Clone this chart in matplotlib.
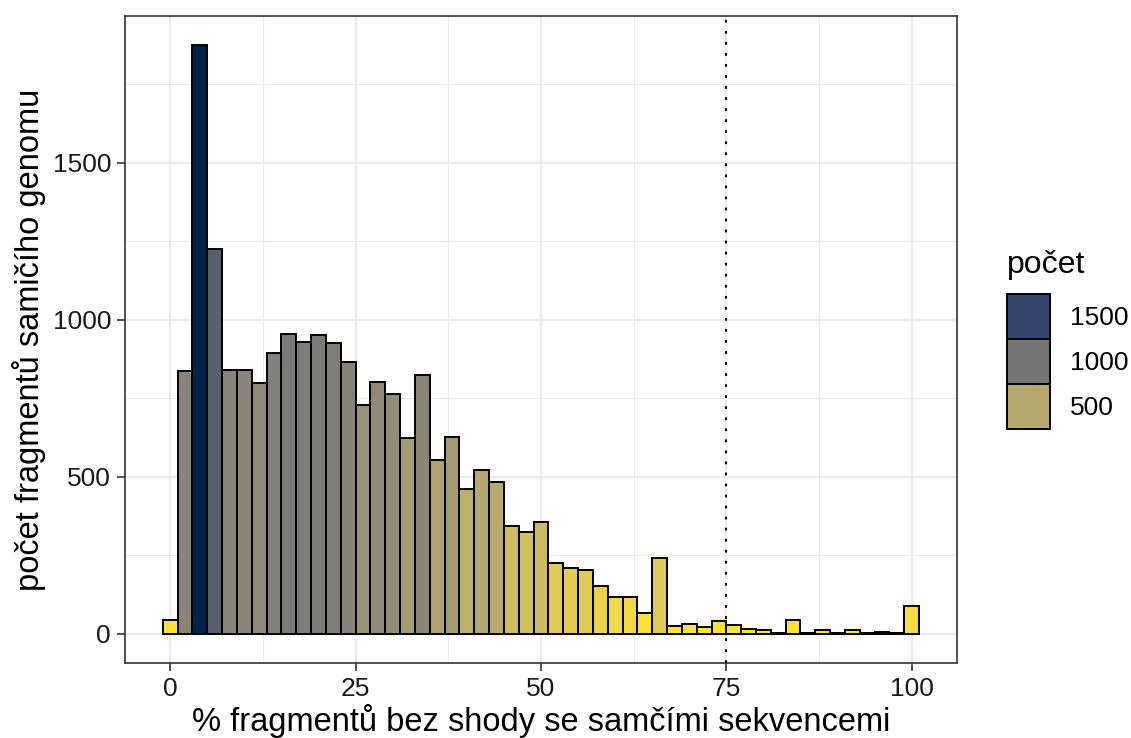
import matplotlib
matplotlib.use("Agg")
import matplotlib.pyplot as plt
from matplotlib.patches import Patch
from matplotlib.colors import Normalize

plt.rcParams['font.family'] = ['Liberation Sans', 'DejaVu Sans']

# stredy binu (sirka 2) a pocty
stredy = list(range(0, 101, 2))
pocty = [42, 835, 1873, 1225, 840, 838, 799, 893, 953, 928,
         952, 926, 864, 727, 800, 762, 623, 824, 554, 627,
         462, 520, 484, 342, 325, 354, 224, 209, 201, 153,
         116, 116, 66, 240, 25, 30, 21, 39, 26, 15,
         10, 2, 44, 3, 12, 2, 11, 3, 5, 1,
         87]
legenda_hodnoty = [1500, 1000, 500]
x_ticks = [0, 25, 50, 75, 100]
y_ticks = [0, 500, 1000, 1500]
hranice = 75

cmap = plt.get_cmap('cividis_r')
norm = Normalize(vmin=min(pocty), vmax=max(pocty))

fig = plt.figure(figsize=(11.31, 7.38), dpi=100)
ax = fig.add_axes([0.1105, 0.1016, 0.7356, 0.8767])

# mrizka jako v theme_bw
for v in [12.5, 37.5, 62.5, 87.5]:
    ax.axvline(v, color='#EBEBEB', lw=0.8, zorder=0)
for v in [250, 750, 1250, 1750]:
    ax.axhline(v, color='#EBEBEB', lw=0.8, zorder=0)
for v in x_ticks:
    ax.axvline(v, color='#EBEBEB', lw=1.6, zorder=0)
for v in y_ticks:
    ax.axhline(v, color='#EBEBEB', lw=1.6, zorder=0)

ax.bar(stredy, pocty, width=2, color=[cmap(norm(p)) for p in pocty],
       edgecolor='black', linewidth=1.4, zorder=2)
ax.axvline(hranice, color='black', ls=(0, (1.3, 4)), lw=1.5, zorder=3)

# rozsah s 5% rezervou
xmin, xmax = stredy[0] - 1, stredy[-1] + 1
ex = (xmax - xmin) * 0.05
ax.set_xlim(xmin - ex, xmax + ex)
ey = max(pocty) * 0.05
ax.set_ylim(-ey, max(pocty) + ey)

ax.set_xticks(x_ticks)
ax.set_yticks(y_ticks)
ax.tick_params(labelsize=19, colors='#333333', length=6, width=1.2, pad=4)
ax.tick_params(labelcolor='#1a1a1a')
for s in ax.spines.values():
    s.set_color('#333333')
    s.set_linewidth(1.2)

ax.set_xlabel('% fragmentů bez shody se samčími sekvencemi', fontsize=23.5, labelpad=2)
ax.set_ylabel('počet fragmentů samičího genomu', fontsize=23.5, labelpad=5)

# legenda
fig.text(0.890, 0.630, 'počet', fontsize=23, ha='left', va='baseline')
handles = [Patch(facecolor=cmap(norm(v)), edgecolor='black', linewidth=1.4) for v in legenda_hodnoty]
leg = fig.legend(handles, [str(v) for v in legenda_hodnoty],
                 loc='upper left', bbox_to_anchor=(0.890, 0.6016), frameon=False,
                 fontsize=19, handlelength=1.63, handleheight=2.245,
                 labelspacing=0.0, handletextpad=0.76, borderpad=0, borderaxespad=0)

fig.savefig('out.png', dpi=100)
